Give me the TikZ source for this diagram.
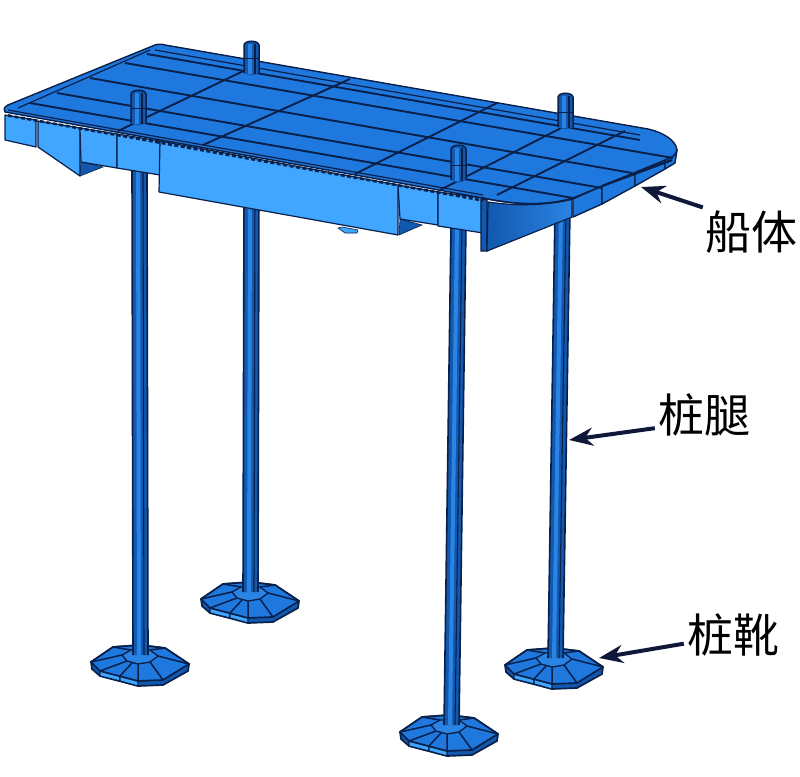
\documentclass[tikz,border=0pt]{standalone}
\usepackage{fontspec}
\newfontfamily\cjkfont{Noto Sans CJK SC}
\usetikzlibrary{arrows.meta}
\definecolor{topblue}{HTML}{1F78DE}
\definecolor{frontblue}{HTML}{40A6FF}
\definecolor{darkblue}{HTML}{1258AE}
\definecolor{midblue}{HTML}{2A84E4}
\definecolor{inkline}{HTML}{08204A}
\definecolor{arrowink}{HTML}{10183A}
\tikzset{
  seam/.style={draw=inkline,line width=1.9pt},
  thinseam/.style={draw=inkline,line width=1.2pt},
  topface/.style={fill=topblue,draw=inkline,line width=1.4pt,line join=round},
  frontface/.style={fill=frontblue,draw=inkline,line width=1.2pt,line join=round},
  underface/.style={fill=darkblue,draw=inkline,line width=0.6pt},
  callout/.style={draw=arrowink,line width=4pt,-{Stealth[length=24pt,width=18pt]}},
  labeltext/.style={font=\cjkfont\fontsize{46}{46}\selectfont,text=black,inner sep=3pt}
}
% leg: x-left top, y top, x-left bottom, y bottom (15 px wide)
\newcommand{\legbar}[4]{%
  \fill[darkblue] (#1,#2)--(#1+15,#2)--(#3+15,#4)--(#3,#4)--cycle;
  \fill[midblue] (#1+4,#2)--(#1+8,#2)--(#3+8,#4)--(#3+4,#4)--cycle;
  \draw[inkline,line width=1.6pt] (#1,#2)--(#3,#4) (#1+15,#2)--(#3+15,#4);
  \draw[inkline,line width=1.1pt] (#1+11,#2)--(#3+11,#4);
}
\newcommand{\stub}[3]{% x left, y top, y bottom
  \fill[darkblue] (#1,#2+4) .. controls (#1+1,#2-1) and (#1+14,#2-1) .. (#1+15,#2+4)--(#1+15,#3)
     .. controls (#1+11,#3+3) and (#1+4,#3+3) .. (#1,#3)--cycle;
  \fill[midblue] (#1+4,#2+3)--(#1+8,#2+3)--(#1+8,#3+1)--(#1+4,#3+1)--cycle;
  \draw[inkline,line width=1.5pt] (#1,#3)--(#1,#2+4) .. controls (#1+1,#2-1) and (#1+14,#2-1) .. (#1+15,#2+4)--(#1+15,#3);
  \draw[inkline,line width=1.1pt] (#1+11,#2+3)--(#1+11,#3+1);
  \draw[inkline,line width=0.7pt] (#1,#3-15)--(#1+15,#3-15);
}
\newcommand{\footpad}[2]{%
 \begin{scope}[shift={(#1,#2)}]
  \fill[darkblue,draw=inkline,line width=1.7pt,line join=round]
    (91,662)--(113,647)--(140,645)--(165,648)--(189,664)--(188,671)--(163,685)--(138,686)--(100,676)--(92,669)--cycle;
  \fill[frontblue,draw=inkline,line width=1.2pt] (100,671)--(120,676)--(120,681)--(100,676)--cycle;
  \fill[frontblue,draw=inkline,line width=1.2pt] (120,676)--(138,681)--(138,686)--(120,681)--cycle;
  \fill[topblue,draw=inkline,line width=1.7pt,line join=round]
    (91,662)--(113,647)--(140,645)--(165,648)--(189,664)--(163,680)--(138,681)--(100,671)--cycle;
  \fill[midblue,draw=inkline,line width=1.3pt]
    (122,655)--(131,650)--(150,650)--(158,656)--(150,662)--(138,664)--(127,661)--cycle;
  \draw[inkline,line width=1.5pt] (91,662)--(122,655) (113,647)--(131,650) (165,648)--(150,650)
     (189,664)--(158,656) (163,680)--(150,662) (138,681)--(138,664) (100,671)--(127,661)
     (120,676)--(132,663);
 \end{scope}}
\begin{document}
\begin{tikzpicture}[x=1pt,y=-1pt]
\useasboundingbox (0,0) rectangle (800,776);
\fill[white] (0,0) rectangle (800,776);

% feet and legs (back first)
\footpad{110}{-63}
\legbar{244}{190}{243}{592}
\footpad{414}{3}
\legbar{555}{210}{548}{658}
\footpad{0}{0}
\legbar{132}{170}{133}{655}
\footpad{309}{70}
\legbar{451}{225}{444}{725}

% small lug under the hull
\fill[frontblue,draw=inkline,line width=0.6pt] (338,228)--(342,227)--(358,230)--(357,233)--(345,233)--cycle;

% front side faces
\path[frontface] (5,115)--(5,140)--(36,147)--(36,120)--cycle;
\path[frontface] (38,121)--(38,147)--(80,176)--(80,128)--cycle;
\path[underface] (81,162)--(80,176)--(103,167)--cycle;
\path[frontface] (80,128)--(81,162)--(117,168)--(117,134)--cycle;
\path[frontface] (117,134)--(117,168)--(160,175)--(160,141)--cycle;
\path[underface] (399,235)--(400,219)--(422,225)--cycle;
\path[frontface] (398,185)--(400,219)--(438,225)--(438,192)--cycle;
\path[frontface] (438,192)--(438,226)--(483,233)--(483,198)--cycle;
\path[frontface] (160,141)--(159,192)--(398,235)--(398,185)--cycle;

% curved end plate
\fill[darkblue,draw=inkline,line width=1.2pt] (481,199)--(481,251)--(487,251)--(487,200)--cycle;
\shade[left color=darkblue,right color=midblue] (488,202) .. controls (515,206) and (545,206) .. (572,199)--(572,217)--(487,251)--cycle;
\draw[inkline,line width=1.2pt] (488,202) .. controls (515,206) and (545,206) .. (572,199)--(572,217)--(487,251)--cycle;

% right side strips
\path[topface] (573,199)--(573,217)--(602,204)--(602,186)--cycle;
\path[topface] (602,186)--(602,204)--(635,186)--(635,172)--cycle;
\path[topface] (635,172)--(635,186)--(665,169)--(665,160)--cycle;
\path[topface] (665,160)--(665,169)--(675,163)--(677,150)--cycle;

% deck top
\path[topface] (155,45) .. controls (158,44) and (162,44) .. (165,45)--(648,129)
   .. controls (662,132) and (676,140) .. (677,150) .. controls (676,156) and (670,158) .. (665,160)
   --(573,198) .. controls (545,206) and (515,205) .. (483,198)--(5,112)
   .. controls (3,108) and (5,107) .. (8,105)--cycle;

% deck border lines
\draw[thinseam] (155,50)--(640,135) (150,50)--(18,108);
\draw[thinseam] (8,110)--(483,195);
\draw[inkline,line width=2.6pt,dash pattern=on 4pt off 2.5pt] (8,115.5)--(483,200.5);
\draw[inkline,line width=2.4pt] (602,186)--(672,160);
\draw[inkline,line width=1.4pt] (573,199) .. controls (545,206) and (515,205) .. (483,198);

% long seams
\path[seam] (147,54)--(640,140);
\path[seam] (125,63)--(673,158);
\path[seam] (90,78)--(632,173);
\path[seam] (57,93)--(602,188);
\path[seam] (30,103)--(573,198);

% cross seams
\path[seam] (258,64)--(118,131);
\path[seam] (350,79)--(203,145);
\path[seam] (497,103)--(355,174);
\path[seam] (565,126)--(440,190);
\path[seam] (625,131)--(497,195);

% deck stubs
\stub{244}{41}{73}
\stub{558}{93}{127}
\stub{131}{90}{123}
\stub{451}{145}{180}

% labels and callouts
\node[labeltext,anchor=center] (hull) at (751,232) {船体};
\node[labeltext,anchor=center] (leg) at (704,415) {桩腿};
\node[labeltext,anchor=center] (boot) at (733,635) {桩靴};
\coordinate (hullTip) at (641,187);
\coordinate (legTip) at (569,440);
\coordinate (bootTip) at (599,658);
\draw[callout] (hull.153) -- (hullTip);
\draw[callout] (leg.195) -- (legTip);
\draw[callout] (boot.190) -- (bootTip);
\end{tikzpicture}
\end{document}
